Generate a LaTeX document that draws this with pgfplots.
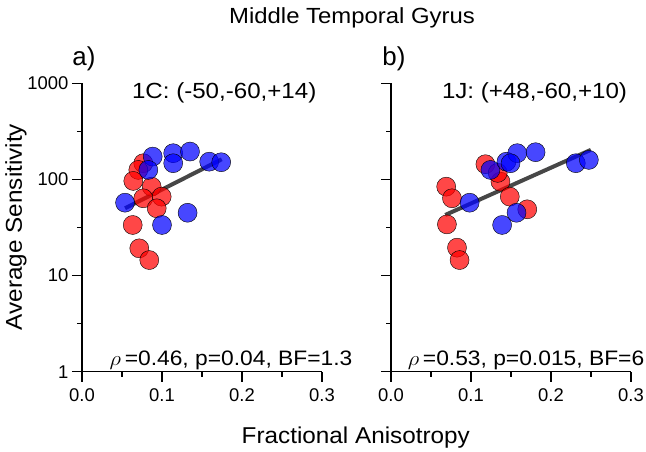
\documentclass[border=0pt]{standalone}
\usepackage{fontspec}
\setmainfont{Liberation Sans}
\usepackage{graphicx}
\usepackage{pgfplots}
\pgfplotsset{compat=1.18}
\pgfplotsset{
  redpt/.style={only marks, mark=*, mark size=9.5bp, mark options={draw=none, fill=red, fill opacity=0.72}},
  bluept/.style={only marks, mark=*, mark size=9.5bp, mark options={draw=none, fill=blue, fill opacity=0.72}},
  fitline/.style={no marks, line width=4bp, black, opacity=0.72},
}
\begin{document}
\begin{tikzpicture}
\begin{axis}[
    ymode=log,
    scale only axis, width=240bp, height=288.4bp,
    xmin=0, xmax=0.3, ymin=1, ymax=1000,
    axis x line=bottom, axis y line=left,
    axis line style={-, line width=1.3bp, black},
    xtick={0,0.1,0.2,0.3}, minor xtick={0.05,0.15,0.25},
    ytick={1,10,100,1000}, minor ytick={3.1623,31.623,316.23},
    xticklabels={0.0,0.1,0.2,0.3},
    yticklabels={1,10,100,1000},
    tick align=outside, major tick length=10bp, minor tick length=5bp,
    every tick/.style={black, line width=1.3bp},
    tick label style={font=\fontsize{18.5}{20}\selectfont},
    xticklabel style={yshift=-3bp},
    clip=false]
\addplot[redpt] coordinates {
(0.0766,147.5) (0.0704,125.6) (0.0641,96.5) (0.0871,84.1) (0.0766,63.7)
(0.0996,66.2) (0.0934,50.1) (0.0634,33.6) (0.0716,19.2) (0.0841,14.5)};
\addplot[bluept] coordinates {
(0.0538,57.3) (0.0884,172.8) (0.114,187.5) (0.135,195) (0.114,147.5)
(0.159,153) (0.174,151) (0.0829,125.6) (0.132,45) (0.100,33.6)};
\addplot[fitline] coordinates {(0.0538,50.1) (0.1746,162)};
\end{axis}
\begin{axis}[
    at={(309bp,0bp)},
    ymode=log,
    scale only axis, width=240bp, height=288.4bp,
    xmin=0, xmax=0.3, ymin=1, ymax=1000,
    axis x line=bottom, axis y line=left,
    axis line style={-, line width=1.3bp, black},
    xtick={0,0.1,0.2,0.3}, minor xtick={0.05,0.15,0.25},
    ytick={1,10,100,1000}, minor ytick={3.1623,31.623,316.23},
    xticklabels={0.0,0.1,0.2,0.3},
    yticklabels={},
    tick align=outside, major tick length=10bp, minor tick length=5bp,
    every tick/.style={black, line width=1.3bp},
    tick label style={font=\fontsize{18.5}{20}\selectfont},
    xticklabel style={yshift=-3bp},
    clip=false]
\addplot[redpt] coordinates {
(0.118,144) (0.069,84.1) (0.0762,63.7) (0.1368,94.8) (0.1485,66.2)
(0.1703,48.9) (0.0699,34.1) (0.0825,19.5) (0.0857,14.5) (0.1334,117)};
\addplot[bluept] coordinates {
(0.0983,57.3) (0.1243,125.6) (0.1443,153) (0.1578,187.5) (0.1807,192)
(0.2310,147.5) (0.2473,159.6) (0.1569,45) (0.1389,33.6) (0.1494,147.5)};
\addplot[fitline] coordinates {(0.0678,42.7) (0.2498,203)};
\end{axis}
\node[anchor=base, font=\fontsize{22}{26}\selectfont] at (270bp,348.4bp) {\scalebox{1.09}[1]{Middle Temporal Gyrus}};
\node[anchor=base, font=\fontsize{26}{30}\selectfont] at (2bp,306bp) {a)};
\node[anchor=base, font=\fontsize{26}{30}\selectfont] at (312bp,306bp) {b)};
\node[anchor=base, font=\fontsize{22}{26}\selectfont] at (142.2bp,273.4bp) {\scalebox{1.1}[1]{1C: (-50,-60,+14)}};
\node[anchor=base, font=\fontsize{22}{26}\selectfont] at (452.5bp,273.4bp) {\scalebox{1.1}[1]{1J: (+48,-60,+10)}};
\node[anchor=base, font=\fontsize{21}{25}\selectfont] at (149bp,6bp) {\scalebox{1.09}[1]{$\rho$\,=0.46, p=0.04, BF=1.3}};
\node[anchor=base, font=\fontsize{21}{25}\selectfont] at (444bp,6bp) {\scalebox{1.09}[1]{$\rho$\,=0.53, p=0.015, BF=6}};
\node[anchor=base, font=\fontsize{23}{27}\selectfont] at (273.8bp,-71.3bp) {\scalebox{1.06}[1]{Fractional Anisotropy}};
\node[anchor=base, rotate=90, font=\fontsize{23}{27}\selectfont] at (-60bp,144.7bp) {\scalebox{1.06}[1]{Average Sensitivity}};
\pgfresetboundingbox
\path[use as bounding box] (-82bp,-80.3bp) rectangle (564bp,371.7bp);
\end{tikzpicture}
\end{document}
